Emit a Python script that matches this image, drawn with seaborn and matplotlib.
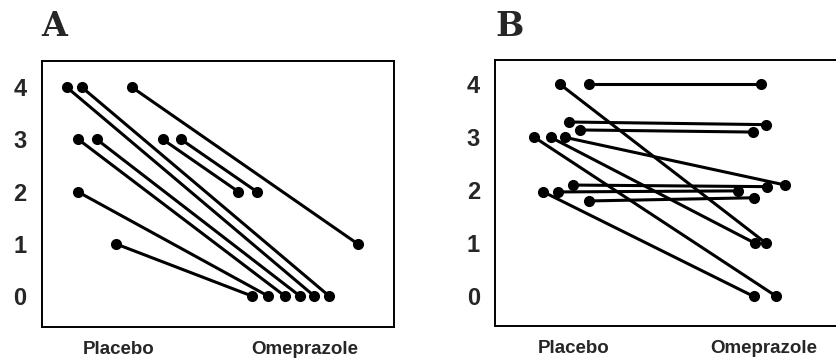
import pandas as pd
import numpy as np
import matplotlib
matplotlib.use("Agg")
import matplotlib.pyplot as plt
import seaborn as sns

# ---------------- data ----------------
groups = ["Placebo", "Omeprazole"]
yticks = [0, 1, 2, 3, 4]

# panel A: one pair per patient (jittered x as drawn in the original)
a_placebo = [4, 4, 3, 3, 2, 1, 4, 3, 3]
a_omep = [0, 0, 0, 0, 0, 0, 1, 2, 2]
a_placebo_x = [-0.280, -0.199, -0.217, -0.118, -0.221, -0.015, 0.070, 0.237, 0.335]
a_omep_x = [1.052, 1.132, 0.894, 0.975, 0.804, 0.718, 1.285, 0.643, 0.742]

# panel B
b_placebo = [4, 4, 3.29, 3.14, 3, 3, 3, 2.10, 1.97, 1.97, 1.80]
b_omep = [1, 4, 3.24, 3.10, 0, 1, 2.10, 2.07, 0, 1.99, 1.86]
b_placebo_x = [-0.071, 0.083, -0.022, 0.031, -0.206, -0.120, -0.045, -0.001, -0.159, -0.080, 0.083]
b_omep_x = [1.013, 0.987, 1.013, 0.943, 1.066, 0.955, 1.113, 1.017, 0.946, 0.867, 0.946]


def to_long(px, py, ox, oy):
    rows = []
    for i in range(len(py)):
        rows.append({"id": i, "x": px[i], "y": py[i]})
        rows.append({"id": i, "x": ox[i], "y": oy[i]})
    return pd.DataFrame(rows)


df_a = to_long(a_placebo_x, a_placebo, a_omep_x, a_omep)
df_b = to_long(b_placebo_x, b_placebo, b_omep_x, b_omep)

# ---------------- plot ----------------
sns.set_style("white")
plt.rcParams["font.family"] = ["Liberation Sans", "DejaVu Sans"]

fig = plt.figure(figsize=(8.36, 3.58), dpi=100)
ax_a = fig.add_axes([0.0499, 0.0866, 0.4214, 0.743])
# panel B is cut off at the right edge in the original
ax_b = fig.add_axes([0.5925, 0.0894, 0.4214, 0.743])

panels = [
    (ax_a, df_a, (-0.414, 1.480), (-0.59, 4.50), "A", 0.0499),
    (ax_b, df_b, (-0.412, 1.441), (-0.56, 4.46), "B", 0.5925),
]

for ax, df, xlim, ylim, letter, xpos in panels:
    sns.lineplot(
        data=df, x="x", y="y", units="id", estimator=None, sort=False,
        color="black", linewidth=2.2, marker="o", markersize=8,
        markeredgewidth=0, ax=ax, legend=False,
    )
    ax.set_xlim(*xlim)
    ax.set_ylim(*ylim)
    ax.set_xticks([0, 1])
    ax.set_xticklabels(groups, fontsize=13.5, fontweight="bold")
    ax.set_yticks(yticks)
    ax.set_yticklabels([str(v) for v in yticks], fontsize=17, fontweight="bold")
    ax.tick_params(axis="x", length=0, pad=10)
    ax.tick_params(axis="y", length=0, pad=11)
    ax.set_xlabel("")
    ax.set_ylabel("")
    for sp in ax.spines.values():
        sp.set_visible(True)
        sp.set_color("black")
        sp.set_linewidth(1.4)
    fig.text(xpos, 0.9, letter, fontsize=24, fontweight="bold",
             family=["DejaVu Serif"], va="baseline", ha="left")

ax_b.spines["right"].set_visible(False)

fig.savefig("out.png", dpi=100)
